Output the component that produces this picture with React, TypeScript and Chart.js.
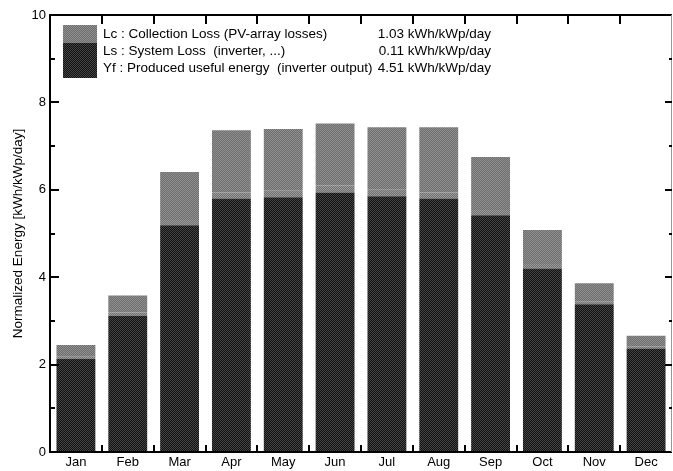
import React, { useEffect, useRef } from "react";
import { Chart, registerables } from "chart.js";

Chart.register(...registerables);

const months = ["Jan", "Feb", "Mar", "Apr", "May", "Jun", "Jul", "Aug", "Sep", "Oct", "Nov", "Dec"];
const yfValues = [2.13, 3.12, 5.19, 5.8, 5.83, 5.94, 5.85, 5.8, 5.42, 4.2, 3.38, 2.37];
const lsValues = [0.05, 0.07, 0.12, 0.14, 0.15, 0.16, 0.15, 0.14, 0.12, 0.1, 0.07, 0.05];
const lcValues = [0.27, 0.39, 1.1, 1.42, 1.41, 1.42, 1.43, 1.49, 1.21, 0.78, 0.41, 0.24];
const legendLabels = [
  "Lc : Collection Loss (PV-array losses)",
  "Ls : System Loss  (inverter, ...)",
  "Yf : Produced useful energy  (inverter output)",
];
const legendValues = ["1.03 kWh/kWp/day", "0.11 kWh/kWp/day", "4.51 kWh/kWp/day"];
const yTitle = "Normalized Energy [kWh/kWp/day]";

const FONT = '"Liberation Sans", Arial, sans-serif';

function makePattern(c1: string, c2: string): CanvasPattern | string {
  const pc = document.createElement("canvas");
  pc.width = 2;
  pc.height = 2;
  const g = pc.getContext("2d");
  if (!g) return c1;
  g.fillStyle = c1;
  g.fillRect(0, 0, 2, 2);
  g.fillStyle = c2;
  g.fillRect(0, 0, 1, 1);
  g.fillRect(1, 1, 1, 1);
  const p = g.createPattern(pc, "repeat");
  return p || c1;
}

export default function App() {
  const ref = useRef<HTMLCanvasElement | null>(null);

  useEffect(() => {
    if (!ref.current) return;
    const lcFill = makePattern("#6f6f6f", "#8e8e8e");
    const lsFill = makePattern("#727272", "#9a9a9a");
    const yfFill = makePattern("#111111", "#454545");

    const framePlugin = {
      id: "frame",
      afterDatasetsDraw(chart: any) {
        const ctx = chart.ctx;
        const { left, right, top, bottom } = chart.chartArea;
        const x = chart.scales.x;
        const y = chart.scales.y;
        ctx.save();
        ctx.strokeStyle = "#000";
        ctx.lineWidth = 2;
        ctx.beginPath();
        ctx.moveTo(left, top);
        ctx.lineTo(right, top);
        ctx.moveTo(left, top - 1);
        ctx.lineTo(left, bottom + 1);
        ctx.moveTo(left, bottom);
        ctx.lineTo(right, bottom);
        ctx.stroke();
        ctx.strokeStyle = "#999";
        ctx.lineWidth = 1;
        ctx.beginPath();
        ctx.moveTo(right - 0.5, top);
        ctx.lineTo(right - 0.5, bottom);
        ctx.stroke();
        ctx.strokeStyle = "#000";
        ctx.lineWidth = 2;
        for (let v = 1; v < 10; v++) {
          const py = Math.round(y.getPixelForValue(v));
          const major = v % 2 === 0;
          ctx.beginPath();
          ctx.moveTo(left, py);
          ctx.lineTo(left + (major ? 9 : 5), py);
          ctx.moveTo(right, py);
          ctx.lineTo(right - (major ? 7 : 3), py);
          ctx.stroke();
        }
        const n = months.length;
        for (let i = 1; i < n; i++) {
          const px = Math.round((x.getPixelForValue(i - 1) + x.getPixelForValue(i)) / 2);
          ctx.beginPath();
          ctx.moveTo(px, top);
          ctx.lineTo(px, top + 9);
          ctx.moveTo(px, bottom);
          ctx.lineTo(px, bottom - 7);
          ctx.stroke();
        }
        ctx.restore();
      },
      afterDraw(chart: any) {
        const ctx = chart.ctx;
        ctx.save();
        ctx.fillStyle = lcFill as any;
        ctx.fillRect(63, 25, 34, 18);
        ctx.fillStyle = yfFill as any;
        ctx.fillRect(63, 43, 34, 35);
        ctx.fillStyle = "#000";
        ctx.font = `13.5px ${FONT}`;
        ctx.textBaseline = "middle";
        const ys = [34, 51, 68];
        legendLabels.forEach((t, i) => {
          ctx.textAlign = "left";
          ctx.fillText(t, 103, ys[i]);
          ctx.textAlign = "right";
          ctx.fillText(legendValues[i], 491, ys[i]);
        });
        ctx.restore();
      },
    };

    const chart = new Chart(ref.current, {
      type: "bar",
      data: {
        labels: months,
        datasets: [
          { label: "Yf", data: yfValues, backgroundColor: yfFill as any, borderWidth: 0 },
          { label: "Ls", data: lsValues, backgroundColor: lsFill as any, borderWidth: 0 },
          { label: "Lc", data: lcValues, backgroundColor: lcFill as any, borderWidth: 0 },
        ],
      },
      options: {
        responsive: false,
        animation: false,
        layout: { padding: { top: 15, right: 1, left: 0, bottom: 0 } },
        datasets: { bar: { categoryPercentage: 0.75, barPercentage: 1 } },
        plugins: { legend: { display: false }, tooltip: { enabled: false } },
        scales: {
          x: {
            stacked: true,
            grid: { display: false, drawTicks: false },
            border: { display: false },
            ticks: { color: "#000", font: { family: FONT, size: 13 }, padding: 3, maxRotation: 0 },
            afterFit: (s: any) => {
              s.height = 19;
            },
          },
          y: {
            stacked: true,
            min: 0,
            max: 10,
            grid: { display: false, drawTicks: false },
            border: { display: false },
            ticks: { stepSize: 2, color: "#000", font: { family: FONT, size: 13 }, padding: 4 },
            title: {
              display: true,
              text: yTitle,
              color: "#000",
              font: { family: FONT, size: 13.5 },
              padding: { top: 10, bottom: 0 },
            },
            afterFit: (s: any) => {
              s.width = 50;
            },
          },
        },
      },
      plugins: [framePlugin],
    });
    return () => chart.destroy();
  }, []);

  return (
    <div style={{ position: "absolute", left: 0, top: 0, width: 673, height: 471, background: "#fff" }}>
      <canvas ref={ref} width={673} height={471} />
    </div>
  );
}
